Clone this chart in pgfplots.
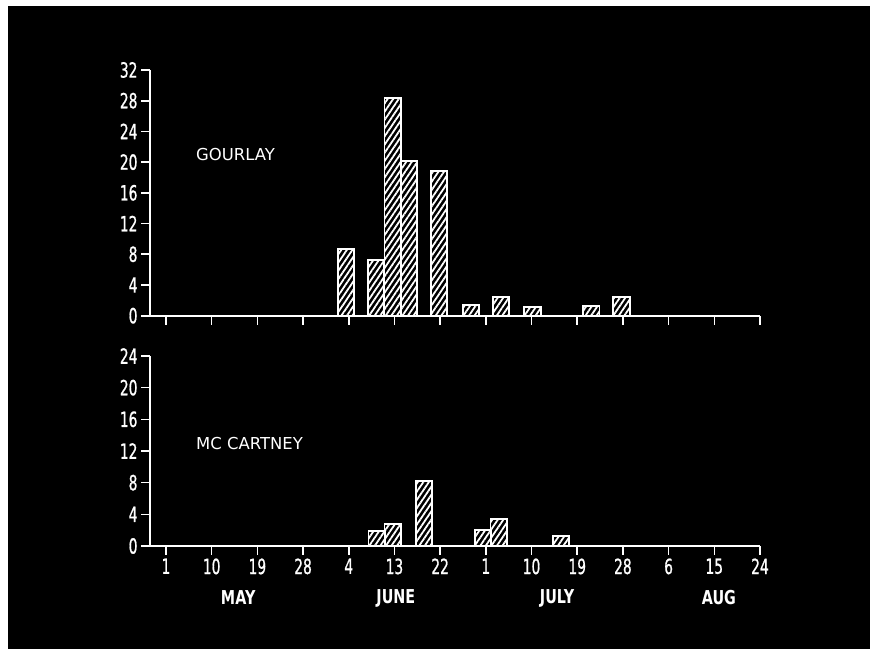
\documentclass[border=0pt]{standalone}
\usepackage{pgfplots}
\pgfplotsset{compat=1.18}
\usepackage{fontspec}
\setmainfont{DejaVu Sans}
\newfontfamily\numfont{DejaVu Sans}[FakeStretch=0.66, FakeBold=0.8]
\newfontfamily\monfont{DejaVu Sans Bold}[FakeStretch=0.75]
\usetikzlibrary{patterns.meta}
\tikzset{mon/.style={white, font=\monfont\fontsize{19.2}{19.2}\selectfont, inner sep=0pt, yshift=-52bp}}
\begin{document}
\begin{tikzpicture}
\fill[white] (0bp,0bp) rectangle (870bp,649bp);
\fill[black] (8bp,0bp) rectangle (870bp,643bp);
\useasboundingbox (0bp,0bp) rectangle (870bp,649bp);
\pgfplotsset{
  every axis/.append style={
    scale only axis, width=610bp,
    xmin=-0.35, xmax=13, ymin=0,
    axis x line*=bottom, axis y line*=left,
    axis line style={white, line width=1.8bp, -},
    tick style={white, line width=1.6bp},
    tick align=outside, major tick length=9bp,
    xtick={0,...,13}, minor tick num=0,
    tick label style={text=white, font=\numfont\fontsize{21}{21}\selectfont},
    clip=false,
  },
  hbar/.style={ybar, bar shift=0pt, bar width=0.355, draw=white, line width=1.9bp,
    pattern={Lines[angle=56, distance=4.6bp, line width=1.8bp]}, pattern color=white},
}
% top panel
\begin{axis}[at={(150bp,333.3bp)}, anchor=south west, height=245.7bp, ymax=32,
  ytick={0,4,...,32}, yticklabels={0,4,8,12,16,20,24,28,32}, xticklabels={}]
\addplot[hbar] coordinates {(3.94,8.65) (4.60,7.25) (4.96,28.4) (5.31,20.2) (5.97,18.9)
  (6.67,1.35) (7.33,2.4) (8.02,1.17) (9.31,1.26) (9.97,2.47)};
\draw[white, line width=1.8bp] (axis cs:-0.55,0) -- (axis cs:-0.35,0);
\end{axis}
\node[white, anchor=west, inner sep=0pt, font=\fontsize{16.5}{16.5}\selectfont] at (196bp,494bp) {GOURLAY};
% bottom panel
\begin{axis}[at={(150bp,103bp)}, anchor=south west, height=190bp, ymax=24,
  ytick={0,4,...,24}, yticklabels={0,4,8,12,16,20,24},
  xticklabels={1,10,19,28,4,13,22,1,10,19,28,6,15,24}]
\addplot[hbar] coordinates {(4.61,1.9) (4.96,2.74) (5.64,8.2) (6.94,2.07) (7.28,3.4) (8.64,1.26)};
\draw[white, line width=1.8bp] (axis cs:-0.55,0) -- (axis cs:-0.35,0);
\node[mon] at (axis cs:1.58,0) {MAY};
\node[mon] at (axis cs:5.03,0) {JUNE};
\node[mon] at (axis cs:8.56,0) {JULY};
\node[mon] at (axis cs:12.1,0) {AUG};
\end{axis}
\node[white, anchor=west, inner sep=0pt, font=\fontsize{16.5}{16.5}\selectfont] at (196bp,205bp) {MC CARTNEY};
\end{tikzpicture}
\end{document}
